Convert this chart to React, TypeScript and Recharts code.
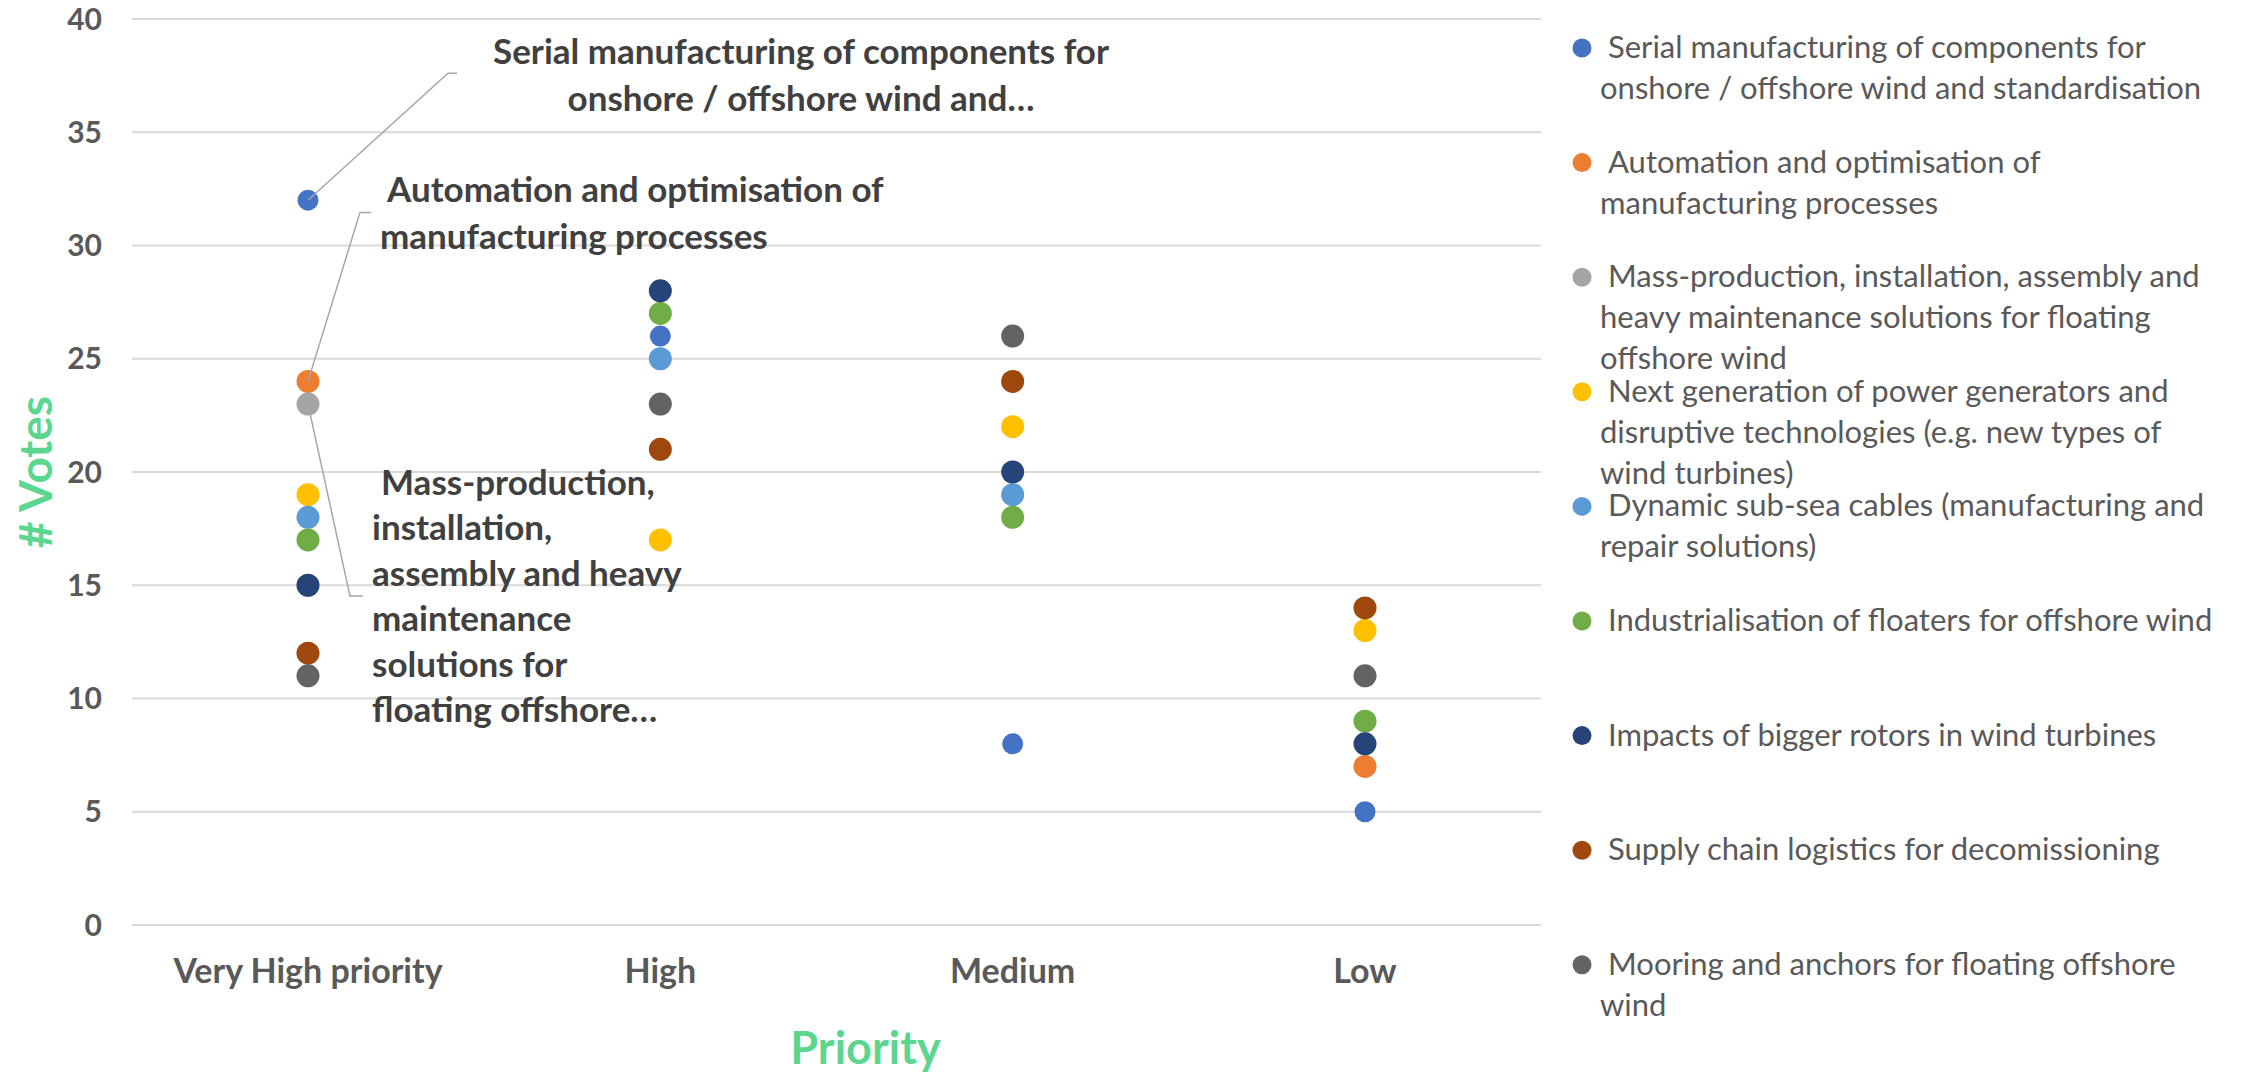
import { CartesianGrid, Label, Legend, Line, LineChart, XAxis, YAxis } from "recharts";

const categories = ["Very High priority", "High", "Medium", "Low"];
const yTicks = [0, 5, 10, 15, 20, 25, 30, 35, 40];

// votes per topic, in category order (null = no point shown)
const serialVotes = [32, 26, 8, 5];
const automationVotes = [24, null, null, 7];
const massProductionVotes = [23, null, null, null];
const nextGenVotes = [19, 17, 22, 13];
const cablesVotes = [18, 25, 19, null];
const floatersVotes = [17, 27, 18, 9];
const rotorsVotes = [15, 28, 20, 8];
const supplyChainVotes = [12, 21, 24, 14];
const mooringVotes = [11, 23, 26, 11];

const legendLines = [
  ["Serial manufacturing of components for", "onshore / offshore wind and standardisation"],
  ["Automation and optimisation of", "manufacturing processes"],
  ["Mass-production, installation, assembly and", "heavy maintenance solutions for floating", "offshore wind"],
  ["Next generation of power generators and", "disruptive technologies (e.g. new types of", "wind turbines)"],
  ["Dynamic sub-sea cables (manufacturing and", "repair solutions)"],
  ["Industrialisation of floaters for offshore wind"],
  ["Impacts of bigger rotors in wind turbines"],
  ["Supply chain logistics for decomissioning"],
  ["Mooring and anchors for floating offshore", "wind"],
];

const calloutLines = [
  ["Serial manufacturing of components for", "onshore / offshore wind and…"],
  ["Automation and optimisation of", "manufacturing processes"],
  ["Mass-production,", "installation,", "assembly and heavy", "maintenance", "solutions for", "floating offshore…"],
];

const colors = ["#4472C4", "#ED7D31", "#A5A5A5", "#FFC000", "#5B9BD5", "#70AD47", "#264478", "#9E480E", "#636363"];
const seriesVotes = [
  serialVotes, automationVotes, massProductionVotes, nextGenVotes, cablesVotes,
  floatersVotes, rotorsVotes, supplyChainVotes, mooringVotes,
];

const FONT = "Lato, 'Open Sans', sans-serif";
const GREEN = "#5BD68E";

const data = categories.map((cat, i) => {
  const row: Record<string, string | number | null> = { cat };
  seriesVotes.forEach((v, s) => (row[`s${s}`] = v[i]));
  return row;
});

// leader line + text placement relative to the labelled point
const calloutLayout = [
  { leader: [[140, -127], [149, -127]], anchor: "middle", dx: [493, 493], dy0: -136, step: 47 },
  { leader: [[52, -169], [63, -169]], anchor: "start", dx: [79, 72], dy0: -179, step: 47 },
  { leader: [[42, 192], [55, 192]], anchor: "start", dx: [73, 64], dy0: 91, step: 45.4 },
];

function makeDot(s: number) {
  return (p: any) => {
    const { cx, cy, index } = p;
    if (cx == null || cy == null || p.value == null) return <g key={`d${s}-${index}`} />;
    const c = index === 0 && s < 3 ? calloutLayout[s] : null;
    return (
      <g key={`d${s}-${index}`}>
        <circle cx={cx} cy={cy} r={s === 0 ? 10.5 : 11.5} fill={colors[s]} />
        {c && (
          <g>
            <polyline
              points={`${cx},${cy} ${cx + c.leader[0][0]},${cy + c.leader[0][1]} ${cx + c.leader[1][0]},${cy + c.leader[1][1]}`}
              fill="none"
              stroke="#A6A6A6"
              strokeWidth={1.5}
            />
            {calloutLines[s].map((t, k) => (
              <text
                key={k}
                x={cx + (k === 0 ? c.dx[0] : c.dx[1])}
                y={cy + c.dy0 + k * c.step}
                textAnchor={c.anchor as any}
                fontFamily={FONT}
                fontWeight={700}
                fontSize={35}
                fill="#404040"
              >
                {t}
              </text>
            ))}
          </g>
        )}
      </g>
    );
  };
}

function LegendContent() {
  return (
    <svg width={681} height={1072}>
      {legendLines.map((lines, i) => {
        const cy = 48 + i * 114.6;
        return (
          <g key={i}>
            <circle cx={22} cy={cy} r={9.5} fill={colors[i]} />
            {lines.map((t, k) => (
              <text
                key={k}
                x={k === 0 ? 48 : 40}
                y={cy + 10 + k * 41}
                fontFamily={FONT}
                fontSize={31}
                fill="#595959"
              >
                {t}
              </text>
            ))}
          </g>
        );
      })}
    </svg>
  );
}

export default function App() {
  return (
    <div style={{ position: "absolute", left: 0, top: 0, width: 2241, height: 1072, background: "#fff" }}>
      <LineChart width={2241} height={1072} data={data} margin={{ top: 19, right: 700, left: 0, bottom: 0 }}>
        <CartesianGrid vertical={false} stroke="#D9D9D9" strokeWidth={2} />
        <XAxis
          dataKey="cat"
          axisLine={false}
          tickLine={false}
          tickSize={0}
          tickMargin={34}
          height={147}
          padding={{ left: 176, right: 176 }}
          interval={0}
          tick={{ fontFamily: FONT, fontWeight: 700, fontSize: 34, fill: "#595959" }}
        >
          <Label
            content={({ viewBox }: any) => (
              <text
                x={viewBox.x + viewBox.width / 2 + 29}
                y={1064}
                textAnchor="middle"
                fontFamily={FONT}
                fontWeight={700}
                fontSize={45}
                fill={GREEN}
              >
                Priority
              </text>
            )}
          />
        </XAxis>
        <YAxis
          domain={[0, 40]}
          ticks={yTicks}
          width={132}
          axisLine={false}
          tickLine={false}
          tickSize={0}
          tickMargin={30}
          tick={{ fontFamily: FONT, fontWeight: 700, fontSize: 30, fill: "#595959" }}
        >
          <Label
            content={({ viewBox }: any) => {
              const cx = 34;
              const cy = viewBox.y + viewBox.height / 2;
              return (
                <text
                  x={cx}
                  y={cy}
                  transform={`rotate(-90 ${cx} ${cy})`}
                  textAnchor="middle"
                  dominantBaseline="central"
                  fontFamily={FONT}
                  fontWeight={700}
                  fontSize={46}
                  fill={GREEN}
                >
                  # Votes
                </text>
              );
            }}
          />
        </YAxis>
        <Legend
          layout="horizontal"
          verticalAlign="middle"
          align="center"
          content={() => <LegendContent />}
          wrapperStyle={{ position: "absolute", left: 1560, top: 0, width: 681, height: 1072 }}
        />
        {seriesVotes.map((_, s) => (
          <Line
            key={s}
            dataKey={`s${s}`}
            name={legendLines[s].join(" ")}
            stroke="none"
            dot={makeDot(s)}
            activeDot={false}
            isAnimationActive={false}
          />
        ))}
      </LineChart>
    </div>
  );
}
